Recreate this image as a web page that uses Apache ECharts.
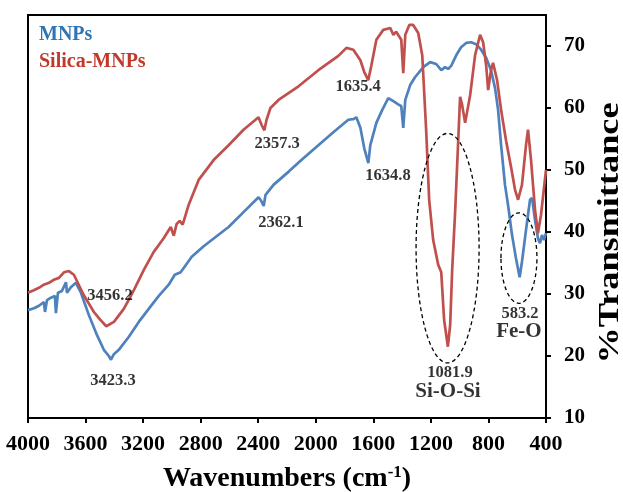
<!DOCTYPE html>
<html>
<head>
<meta charset="utf-8">
<script src="https://cdn.jsdelivr.net/npm/echarts@6/dist/echarts.min.js"></script>
<style>
  html, body { margin: 0; padding: 0; background: #fff; }
  #chart { width: 623px; height: 492px; }
</style>
</head>
<body>
<div id="chart"></div>
<script>
// FT-IR spectra: wavenumber (cm-1) and % transmittance
const mnpsWave = [4000,3958,3924,3889,3882,3868,3840,3813,3806,3792,3764,3736,3729,3702,3667,3632,3577,3521,3473,3438,3423.3,3403,3369,3299,3230,3161,3091,3022,2980,2939,2862,2779,2696,2606,2502,2398,2384,2362.1,2349,2294,2190,2100,1982,1878,1774,1739,1718,1690,1663,1634.8,1621,1579,1538,1496,1461,1427,1406,1392,1378,1344,1309,1253,1205,1163,1128,1101,1080,1059,1024,990,955,920,886,851,816,782,754,733,712,685,664,636,609,583.2,567,539,511,497,476,456,442,428,414,400];
const mnpsT = [27.4,27.7,28.1,28.7,27.1,29.0,29.4,29.7,26.9,30.2,30.5,31.9,30.2,31.1,31.8,30.2,26.6,23.4,21.0,20.0,19.4,20.3,21.0,23.1,25.5,27.6,29.7,31.5,33.1,33.5,36.0,37.7,39.2,40.8,43.2,45.6,45.2,44.2,46.0,47.6,49.7,51.6,54.0,56.1,58.1,58.2,58.5,56.8,53.5,51.1,54.0,57.6,59.7,61.6,61.1,60.6,60.3,56.8,61.3,63.7,65.0,66.6,67.4,67.1,66.1,66.6,66.3,66.8,68.5,69.8,70.5,70.6,70.3,69.4,68.1,66.1,63.2,59.7,54.0,47.6,44.4,39.5,35.8,32.7,35.2,40.3,45.2,45.5,41.9,39.0,38.2,39.5,38.7,39.8];

const silicaWave = [4000,3960,3924,3890,3854,3820,3785,3750,3716,3681,3612,3542,3500,3456.2,3403,3334,3265,3195,3126,3057,3008,2987,2967,2946,2925,2883,2814,2710,2606,2502,2398,2377,2357.3,2342,2315,2259,2120,1982,1843,1787,1739,1690,1663,1635.4,1614,1579,1531,1482,1461,1441,1406,1392,1378,1350,1323,1288,1260,1233,1212,1184,1149,1128,1108,1081.9,1066,1052,1031,1010,997,983,962,927,893,858,837,816,802,782,768,740,712,678,643,615,594,567,539,525,504,476,456,435,400];
const silicaT = [30.2,30.6,31.0,31.5,31.8,32.3,32.6,33.5,33.7,33.1,29.8,27.1,25.9,24.8,25.5,27.6,30.6,33.9,36.8,39.0,40.8,39.4,41.3,41.8,41.2,44.4,48.4,51.6,54.0,56.5,58.5,57.3,56.4,58.1,60.0,61.3,63.5,66.1,68.4,69.7,69.4,67.7,65.8,64.5,66.8,71.0,72.6,72.9,71.8,72.3,71.0,65.6,71.8,73.4,73.4,72.1,68.5,56.5,45.2,38.7,34.7,33.5,25.8,21.5,25.0,33.9,43.5,54.8,61.8,60.5,57.6,62.1,68.5,71.8,70.6,66.9,62.9,66.1,67.3,64.5,59.7,54.8,50.5,46.8,45.2,47.6,54.0,56.5,51.6,43.5,39.8,42.7,50.0];

// Axis ticks
const xTicks = [4000,3600,3200,2800,2400,2000,1600,1200,800,400];
const yTicks = [10,20,30,40,50,60,70];

// Peak annotations (text, wavenumber, %T where the text sits)
const peakText = ['3456.2','3423.3','2357.3','2362.1','1635.4','1634.8','1081.9','583.2'];
const peakWave = [3430,3409,2269,2242,1706,1498,1067,581];
const peakT    = [29.7,16.0,54.2,41.5,63.5,49.0,17.3,26.8];

// Band assignments
const bandText = ['Si-O-Si','Fe-O'];
const bandWave = [1081,588];
const bandT    = [14.2,23.9];

// Dashed outlines round the two bands: centre and half extents in axis units
const bandRings = [
  { wave: 1084, t: 37.4, dw: 219, dt: 18.5 },
  { wave: 588,  t: 35.8, dw: 125, dt: 7.3 }
];

const FONT = "'Liberation Serif','Times New Roman',Times,serif";
const BLUE = '#4F81BD';
const RED = '#C0504D';

const pairs = (xs, ys) => xs.map((x, i) => [x, ys[i]]);

const chart = echarts.init(document.getElementById('chart'), null, { renderer: 'canvas' });

const option = {
  animation: false,
  backgroundColor: '#fff',
  grid: {
    left: 28, right: 77, top: 15, bottom: 74,
    outerBoundsMode: 'none', containLabel: false,
    show: true, borderColor: '#000', borderWidth: 2, backgroundColor: 'transparent'
  },
  legend: {
    orient: 'vertical', left: 34, top: 25, padding: 0,
    icon: 'none', itemWidth: 0, itemHeight: 20, itemGap: 7,
    selectedMode: false,
    textStyle: { fontFamily: FONT, fontWeight: 'bold', fontSize: 20 },
    data: [
      { name: 'MNPs', textStyle: { color: '#2E75B6' } },
      { name: 'Silica-MNPs', textStyle: { color: '#C0392B' } }
    ]
  },
  xAxis: {
    type: 'value', min: 400, max: 4000, interval: 400, inverse: true,
    axisLine: { show: true, lineStyle: { color: '#000', width: 2 } },
    axisTick: { show: true, inside: false, length: 5, lineStyle: { color: '#000', width: 2 }, customValues: xTicks },
    axisLabel: {
      color: '#000', fontFamily: FONT, fontWeight: 'bold', fontSize: 22, margin: 15,
      customValues: xTicks, formatter: v => String(v)
    },
    splitLine: { show: false },
    name: 'Wavenumbers (cm{sup|-1})',
    nameLocation: 'middle', nameGap: 46,
    nameTextStyle: {
      color: '#000', fontFamily: FONT, fontWeight: 'bold', fontSize: 28,
      rich: { sup: { color: '#000', fontFamily: FONT, fontWeight: 'bold', fontSize: 17, padding: [0, 0, 12, 0] } }
    }
  },
  yAxis: {
    type: 'value', position: 'right', min: 10, max: 75, interval: 10,
    axisLine: { show: true, lineStyle: { color: '#000', width: 2 } },
    axisTick: { show: true, inside: false, length: 5, lineStyle: { color: '#000', width: 2 }, customValues: yTicks },
    axisLabel: {
      color: '#000', fontFamily: FONT, fontWeight: 'bold', fontSize: 21, margin: 18,
      customValues: yTicks,
      formatter: v => (v % 10 === 0 ? String(v) : '')
    },
    splitLine: { show: false }
  },
  series: [
    {
      name: 'MNPs', type: 'line', data: pairs(mnpsWave, mnpsT),
      showSymbol: false, symbol: 'none', smooth: false,
      lineStyle: { color: BLUE, width: 2.7 }, itemStyle: { color: BLUE }, z: 2
    },
    {
      name: 'Silica-MNPs', type: 'line', data: pairs(silicaWave, silicaT),
      showSymbol: false, symbol: 'none', smooth: false,
      lineStyle: { color: RED, width: 2.7 }, itemStyle: { color: RED }, z: 3
    },
    {
      name: 'peaks', type: 'scatter', symbolSize: 0, silent: true, z: 5,
      data: peakWave.map((w, i) => [w, peakT[i], peakText[i]]),
      label: {
        show: true, position: 'inside', formatter: p => p.data[2],
        color: '#000', fontFamily: FONT, fontWeight: 'bold', fontSize: 16.5
      }
    },
    {
      name: 'bands', type: 'scatter', symbolSize: 0, silent: true, z: 5,
      data: bandWave.map((w, i) => [w, bandT[i], bandText[i]]),
      label: {
        show: true, position: 'inside', formatter: p => p.data[2],
        color: '#000', fontFamily: FONT, fontWeight: 'bold', fontSize: 21
      }
    }
  ]
};

chart.setOption(option);

// Dashed band outlines and the rotated y-axis title
const rings = bandRings.map(r => {
  const c = chart.convertToPixel({ gridIndex: 0 }, [r.wave, r.t]);
  const e = chart.convertToPixel({ gridIndex: 0 }, [r.wave - r.dw, r.t + r.dt]);
  return {
    type: 'ellipse', silent: true, z: 10,
    shape: { cx: c[0], cy: c[1], rx: Math.abs(e[0] - c[0]), ry: Math.abs(c[1] - e[1]) },
    style: { fill: 'none', stroke: '#000', lineWidth: 1.3, lineDash: [4, 3] }
  };
});

chart.setOption({
  graphic: [
    ...rings,
    {
      type: 'text', x: 611, y: 233, rotation: Math.PI / 2, scaleX: 1.25, scaleY: 1,
      silent: true,
      style: {
        text: '%Transmittance', fill: '#000',
        font: 'bold 29px ' + FONT,
        align: 'center', verticalAlign: 'middle',
        textAlign: 'center', textVerticalAlign: 'middle'
      }
    }
  ]
});
</script>
</body>
</html>
